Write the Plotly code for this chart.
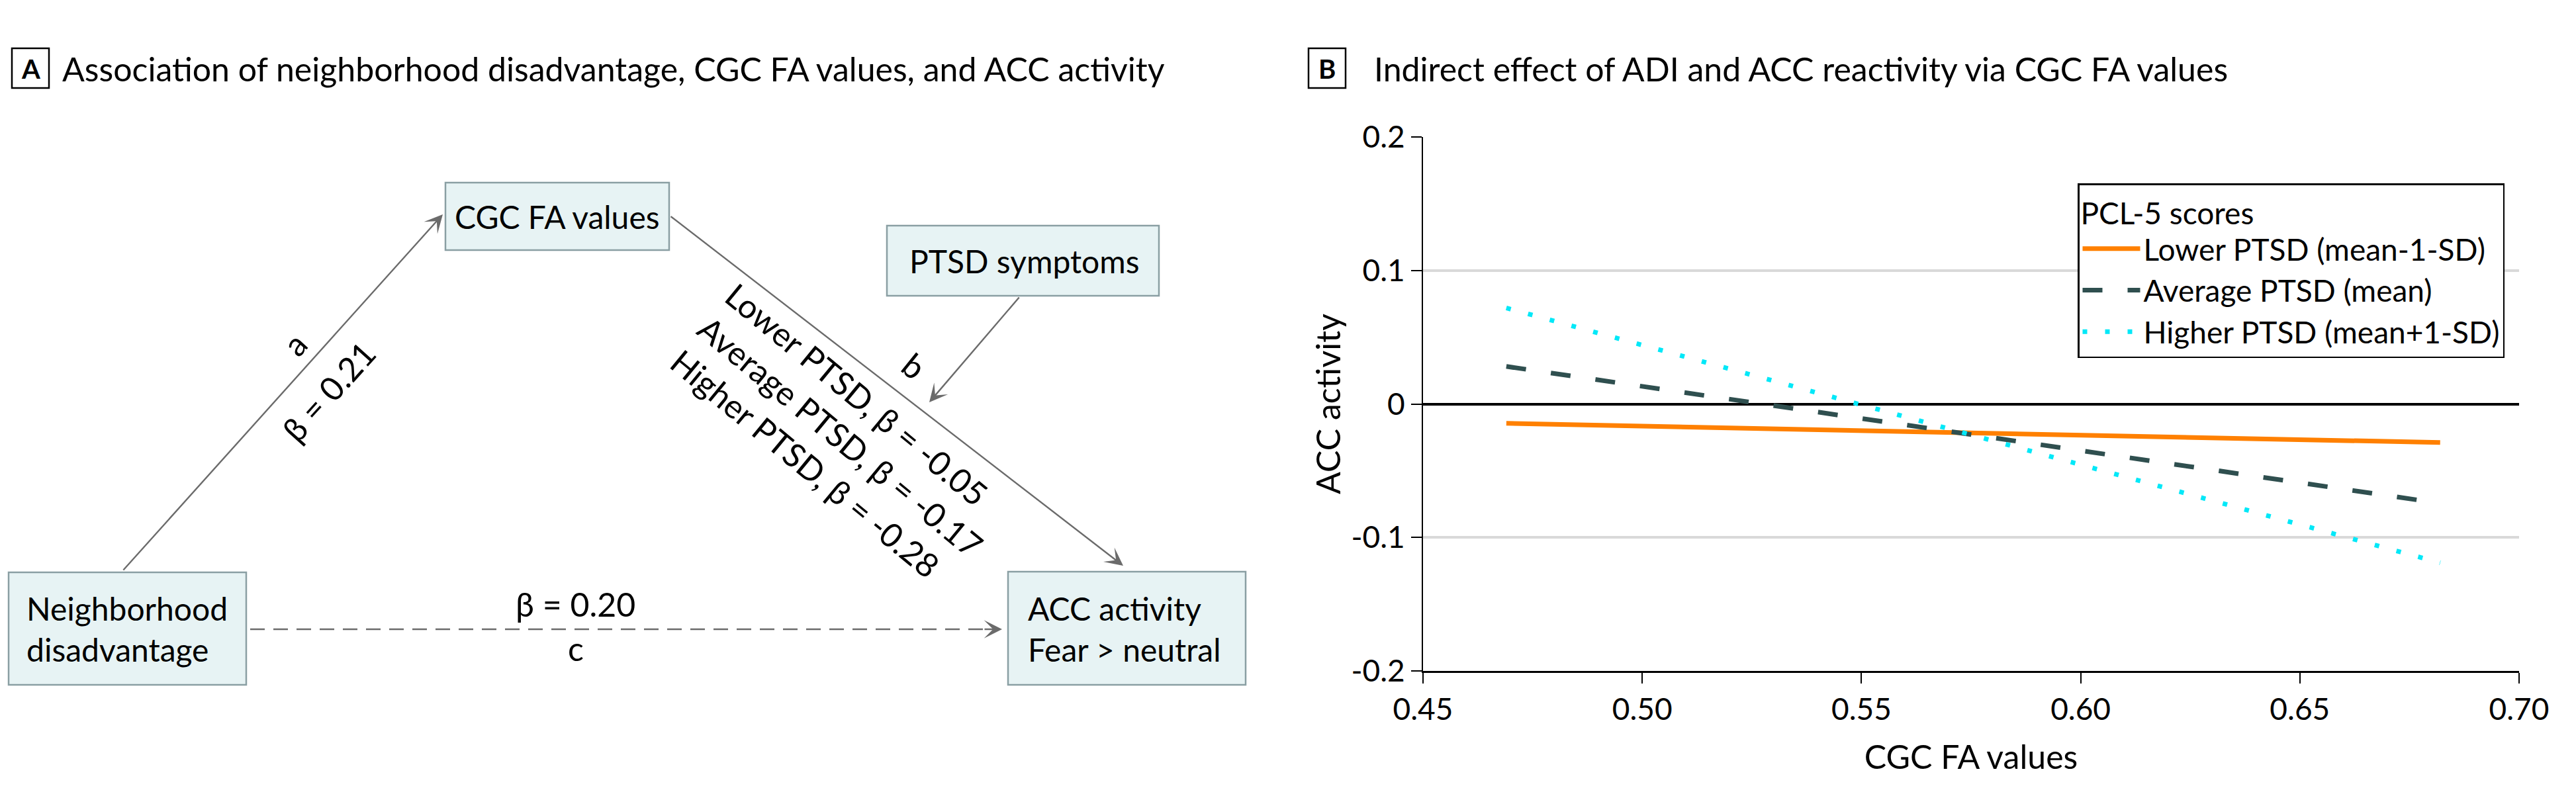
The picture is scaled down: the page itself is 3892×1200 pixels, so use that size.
import plotly.graph_objects as go

W, H = 3892, 1200

# ---------------- data (panel B) ----------------
cgc_fa = [0.469, 0.682]
lower_ptsd = [-0.0145, -0.0289]
average_ptsd = [0.0281, -0.0744]
higher_ptsd = [0.0719, -0.119]
series_names = ["Lower PTSD (mean-1-SD)", "Average PTSD (mean)", "Higher PTSD (mean+1-SD)"]
x_ticks = [0.45, 0.50, 0.55, 0.60, 0.65, 0.70]
x_ticklabels = ["0.45", "0.50", "0.55", "0.60", "0.65", "0.70"]
y_ticks = [-0.2, -0.1, 0, 0.1, 0.2]
y_ticklabels = ["-0.2", "-0.1", "0", "0.1", "0.2"]

# ---------------- text (panel A) ----------------
title_a = "Association of neighborhood disadvantage, CGC FA values, and ACC activity"
title_b = "Indirect effect of ADI and ACC reactivity via CGC FA values"
node_x = "Neighborhood<br>disadvantage"
node_m = "CGC FA values"
node_w = "PTSD symptoms"
node_y = "ACC activity<br>Fear &gt; neutral"
path_a_label = "a"
path_a_beta = "β = 0.21"
path_c_label = "c"
path_c_beta = "β = 0.20"
path_b_label = "b"
path_b_betas = ["Lower PTSD, β = -0.05", "Average PTSD, β = -0.17", "Higher PTSD, β = -0.28"]

FONT = "Lato, 'Liberation Sans', sans-serif"
GREY = "#6b6b6b"
BOX_FILL = "#E7F3F4"
BOX_LINE = "#8A9FA3"


def X(px):
    return px / W


def Y(py):
    return 1 - py / H


fig = go.Figure()
fig.add_trace(go.Scatter(x=cgc_fa, y=lower_ptsd, mode="lines", name=series_names[0],
                         line=dict(color="#FF8000", width=7)))
fig.add_trace(go.Scatter(x=cgc_fa, y=average_ptsd, mode="lines", name=series_names[1],
                         line=dict(color="#2F4F4F", width=7, dash="30px,38px")))
fig.add_trace(go.Scatter(x=cgc_fa, y=higher_ptsd, mode="lines", name=series_names[2],
                         line=dict(color="#00E8F8", width=7, dash="7px,27px")))

shapes = []
annotations = []


def box(x0, y0, x1, y1):
    shapes.append(dict(type="rect", xref="paper", yref="paper",
                       x0=X(x0), x1=X(x1), y0=Y(y1), y1=Y(y0),
                       fillcolor=BOX_FILL, line=dict(color=BOX_LINE, width=2.5), layer="below"))


def text(px, py, s, size=50, xanchor="center", align="center", angle=0, bold=False):
    annotations.append(dict(xref="paper", yref="paper", x=X(px), y=Y(py), text=s,
                            showarrow=False, xanchor=xanchor, yanchor="middle", align=align,
                            textangle=angle,
                            font=dict(family=FONT, size=size, color="black",
                                      weight="bold" if bold else "normal")))


def arrow(x0, y0, x1, y1):
    annotations.append(dict(xref="paper", yref="paper", x=X(x1), y=Y(y1), text="",
                            showarrow=True, ax=x0 - x1, ay=y0 - y1, axref="pixel", ayref="pixel",
                            arrowhead=3, arrowsize=1.9, arrowwidth=2.4, arrowcolor=GREY,
                            standoff=0, startstandoff=0))


# panel letters and titles
for (bx0, by0, bx1, by1, letter, tx, title) in [(10, 65, 66, 125, "A", 84, title_a),
                                                 (1969, 65, 2025, 125, "B", 2066, title_b)]:
    shapes.append(dict(type="rect", xref="paper", yref="paper", x0=X(bx0), x1=X(bx1),
                       y0=Y(by1), y1=Y(by0), fillcolor="white", line=dict(color="black", width=2.5)))
    text((bx0 + bx1) / 2, (by0 + by1) / 2 + 1, letter, size=40, bold=True)
    text(tx, 96, title, size=50, xanchor="left", align="left")

# nodes
box(5, 857, 364, 1027)
text(30, 942, node_x, size=48, xanchor="left", align="left")
box(665, 268, 1003, 370)
text(834, 320, node_m, size=48)
box(1332, 333, 1743, 439)
text(1540, 386, node_w, size=48)
box(1515, 856, 1874, 1027)
text(1543, 942, node_y, size=48, xanchor="left", align="left")

# paths
arrow(177, 855, 661, 316)
arrow(1004, 318, 1689, 847)
arrow(1533, 440, 1396, 600)
shapes.append(dict(type="line", xref="paper", yref="paper", x0=X(370), x1=X(1480),
                   y0=Y(943), y1=Y(943), line=dict(color=GREY, width=2.4, dash="22px,13px")))
arrow(1478, 943, 1506, 943)

# path labels
text(437, 512, path_a_label, angle=-48)
text(488, 584, path_a_beta, angle=-48)
text(861, 905, path_c_beta)
text(862, 972, path_c_label)
text(1373, 545, path_b_label, angle=39)
text(1262, 652, "<br>".join(path_b_betas), xanchor="center", align="left", angle=39.5)

fig.update_layout(
    width=W, height=H,
    margin=dict(l=0, r=0, t=0, b=0),
    paper_bgcolor="white", plot_bgcolor="white",
    font=dict(family=FONT, color="black"),
    shapes=shapes, annotations=annotations,
    showlegend=True,
    legend=dict(x=X(3131), y=Y(269), xanchor="left", yanchor="top",
                bordercolor="black", borderwidth=2.5, bgcolor="white",
                font=dict(family=FONT, size=46, color="black"),
                title=dict(text="PCL-5 scores", font=dict(family=FONT, size=46, color="black")),
                itemwidth=87, tracegroupgap=0),
    xaxis=dict(domain=[X(2142), X(3798)], range=[0.45, 0.70],
               tickvals=x_ticks, ticktext=x_ticklabels,
               ticks="outside", ticklen=16, tickwidth=2, tickcolor="black",
               showline=True, linecolor="black", linewidth=3,
               showgrid=False, zeroline=False,
               tickfont=dict(family=FONT, size=46, color="black"),
               title=dict(text="CGC FA values", font=dict(family=FONT, size=50, color="black"), standoff=30),
               automargin=False, fixedrange=True),
    yaxis=dict(domain=[Y(1006), Y(199)], range=[-0.2, 0.2],
               tickvals=y_ticks, ticktext=y_ticklabels,
               ticks="outside", ticklen=16, tickwidth=2, tickcolor="black",
               showline=True, linecolor="black", linewidth=2,
               showgrid=True, gridcolor="#D9D9D9", gridwidth=4,
               zeroline=True, zerolinecolor="black", zerolinewidth=4,
               tickfont=dict(family=FONT, size=46, color="black"),
               title=dict(text="ACC activity", font=dict(family=FONT, size=50, color="black"), standoff=0),
               automargin=False, fixedrange=True),
)

fig.write_html("out.html")
